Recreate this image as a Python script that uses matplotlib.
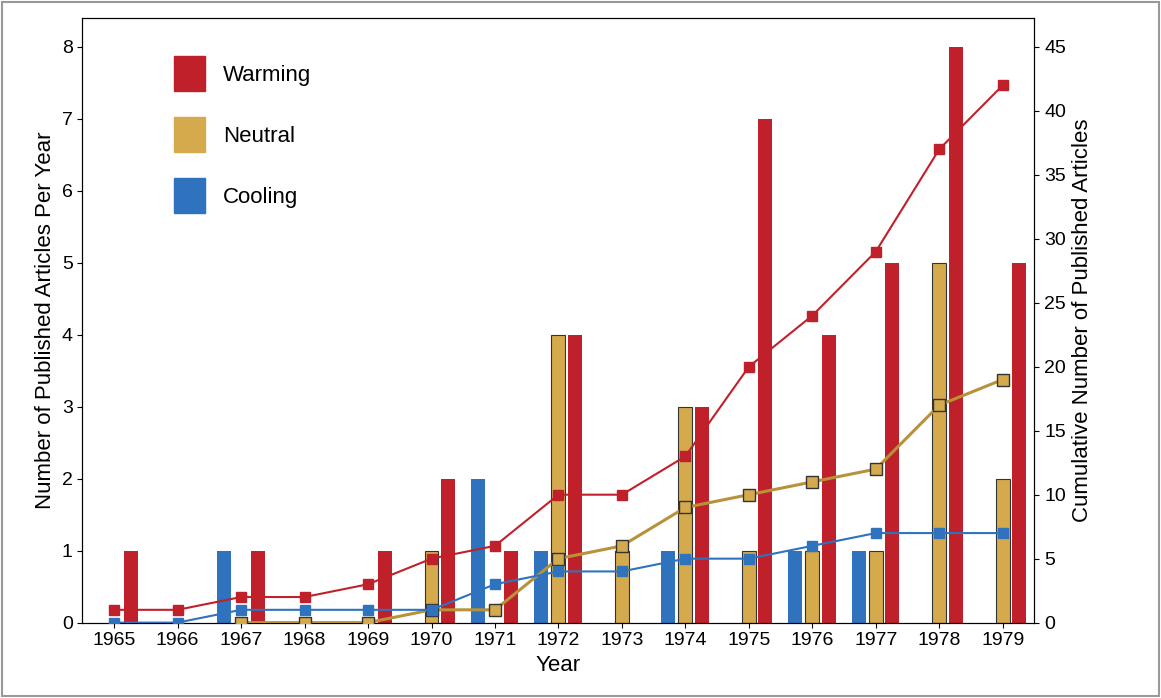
import matplotlib
matplotlib.use("Agg")
import matplotlib.pyplot as plt
from matplotlib.patches import Patch

plt.rcParams['font.family'] = ['Liberation Sans', 'DejaVu Sans']

years = list(range(1965, 1980))
cooling = [0,0,1,0,0,0,2,1,0,1,0,1,1,0,0]
neutral = [0,0,0,0,0,1,0,4,1,3,1,1,1,5,2]
warming = [1,0,1,0,1,2,1,4,0,3,7,4,5,8,5]
cum_warming = [1,1,2,2,3,5,6,10,10,13,20,24,29,37,42]
cum_neutral_years = list(range(1967, 1980))
cum_neutral = [0,0,0,1,1,5,6,9,10,11,12,17,19]
cum_cooling = [0,0,1,1,1,1,3,4,4,5,5,6,7,7,7]

RED = "#c0202a"; GOLD = "#d4aa4c"; BLUE = "#2f72bd"

fig = plt.figure(figsize=(11.61, 6.98), dpi=100)
ax = fig.add_axes([0.071, 0.108, 0.82, 0.866])
ax2 = ax.twinx()
w = 0.22
x = years
ax.bar([v - 0.27 for v in x], cooling, w, color=BLUE, zorder=2)
ax.bar(x, neutral, w, color=GOLD, edgecolor="#333333", linewidth=0.8, zorder=2)
ax.bar([v + 0.26 for v in x], warming, w, color=RED, zorder=2)
ax.set_ylim(0, 8.4)
ax.set_xlim(1964.5, 1979.5)
ax2.set_ylim(0, 8.4 * 45 / 8)
ax.set_xticks(years)
ax.set_yticks(range(0, 9))
ax2.set_yticks(range(0, 46, 5))
ax.tick_params(labelsize=14, direction="out")
ax2.tick_params(labelsize=14, direction="out")
ax.set_xlabel("Year", fontsize=16)
ax.set_ylabel("Number of Published Articles Per Year", fontsize=16)
ax2.set_ylabel("Cumulative Number of Published Articles", fontsize=16)

ax2.plot(years, cum_warming, color=RED, lw=1.5, marker="s", ms=7, mec=RED, zorder=3)
ax2.plot(cum_neutral_years, cum_neutral, color="#b8923a", lw=2.2, marker="s", ms=8, mfc=GOLD, mec="#333333", mew=1, zorder=3)
ax2.plot(years, cum_cooling, color=BLUE, lw=1.5, marker="s", ms=7, mec=BLUE, zorder=3)

handles = [Patch(color=RED), Patch(color=GOLD), Patch(color=BLUE)]
ax.legend(handles, ["Warming", "Neutral", "Cooling"], loc="upper left",
          bbox_to_anchor=(0.075, 0.97), frameon=False, fontsize=16,
          handlelength=1.4, handleheight=2.0, labelspacing=1.2, handletextpad=0.8)

fig.patches.append(plt.Rectangle((0.002, 0.003), 0.996, 0.994, transform=fig.transFigure,
                                 fill=False, edgecolor="#999999", lw=1.5))
fig.savefig("out.png", dpi=100)
